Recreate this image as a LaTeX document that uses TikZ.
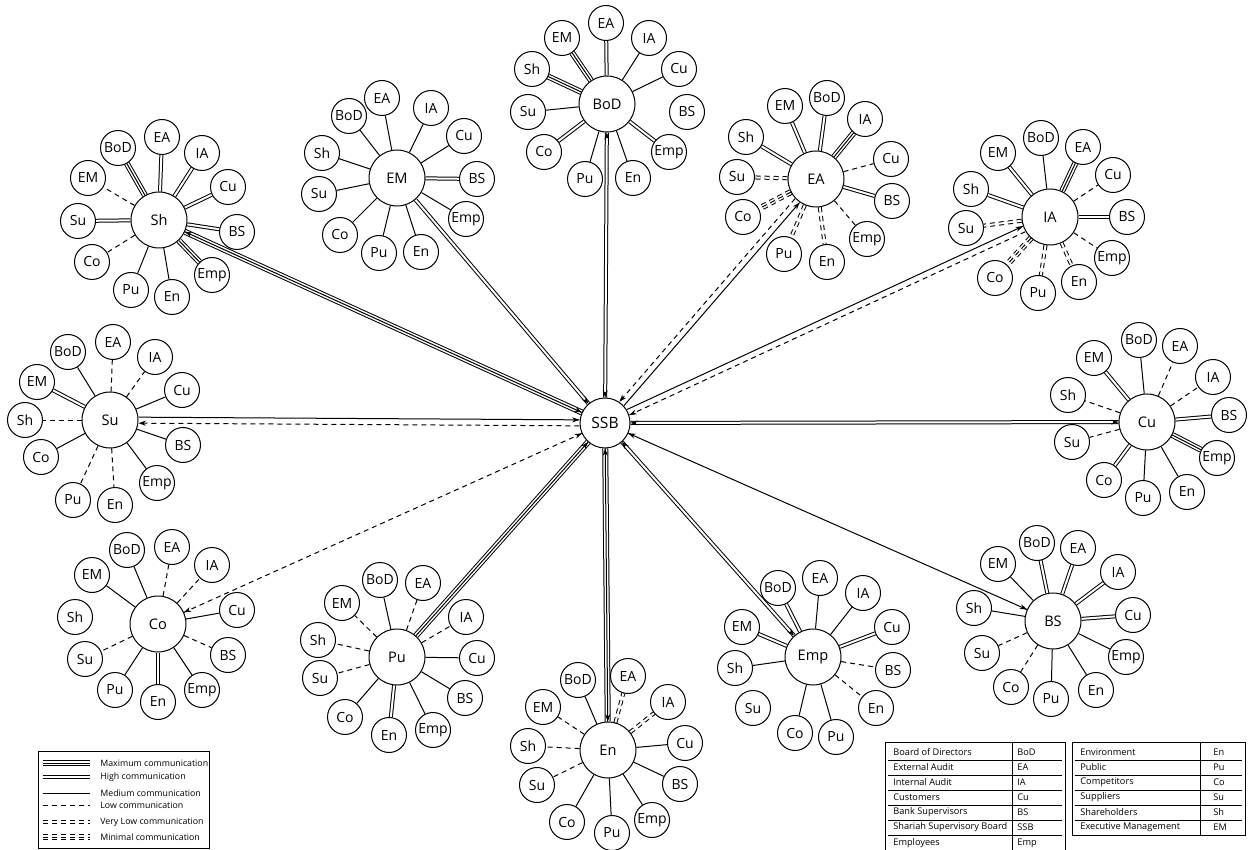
\documentclass[tikz,border=0pt]{standalone}
\usepackage{fontspec}
\setmainfont{Open Sans}
\usetikzlibrary{calc,arrows.meta,decorations.markings}
\pgfdeclarelayer{background}
\pgfsetlayers{background,main}
\tikzset{
  >={Stealth[length=3.6pt,width=2.5pt,line width=0.3pt]},
  sat/.style={circle, draw, line width=0.5pt, fill=white, minimum size=17.5pt, inner sep=0pt, font=\fontsize{7}{8}\selectfont},
  ctr/.style={circle, draw, line width=0.5pt, fill=white, minimum size=28pt, inner sep=0pt, font=\fontsize{7.3}{8}\selectfont},
  ssbnode/.style={circle, draw, line width=0.5pt, fill=white, minimum size=25pt, inner sep=0pt, font=\fontsize{7.8}{9}\selectfont},
  med/.style={draw, line width=0.5pt},
  high/.style={draw, line width=2pt, postaction={draw=white, line width=1pt}},
  maxc/.style={draw, line width=3pt, postaction={draw=white, line width=2pt}, postaction={draw=black, line width=0.5pt}},
  low/.style={draw, line width=0.5pt, dash pattern=on 2.5pt off 2pt},
  vlow/.style={draw, line width=2pt, dash pattern=on 2.5pt off 2pt, postaction={draw=white, line width=1pt, dash pattern=on 2.5pt off 2pt}},
  minc/.style={draw, line width=3pt, dash pattern=on 2.5pt off 2pt, postaction={draw=white, line width=2pt, dash pattern=on 2.5pt off 2pt}, postaction={draw=black, line width=0.5pt, dash pattern=on 2.5pt off 2pt}},
  nonec/.style={draw=none},
  arrB/.style={postaction={line width=0.5pt, solid, decorate, decoration={markings, mark=at position 0 with {\arrowreversed{>}}, mark=at position 1 with {\arrow{>}}}}},
  arrE/.style={postaction={line width=0.5pt, solid, decorate, decoration={markings, mark=at position 1 with {\arrow{>}}}}},
  arrS/.style={postaction={line width=0.5pt, solid, decorate, decoration={markings, mark=at position 0 with {\arrowreversed{>}}}}},
  legtext/.style={anchor=west, inner sep=0pt, font=\fontsize{4.4}{5}\selectfont},
  tabtext/.style={anchor=west, inner sep=0pt, font=\fontsize{4.6}{5}\selectfont},
}
\newcommand\mkcluster[4]{%
  \node[ctr] (#1) at (#2,#3) {#1};
  \foreach \lab/\sx/\sy/\sty in {#4} {
    \node[sat] (#1-\lab) at (\sx,\sy) {\lab};
    \begin{pgfonlayer}{background}\draw[\sty] (#1) -- (#1-\lab);\end{pgfonlayer}
  }}
% #1 style SSB->X (arrow at X), #2 style X->SSB (arrow at SSB), #3 node, #4 side (+1/-1)
\newcommand\mkpair[4]{%
  \draw[#1, arrE] ($(SSB)!12.8pt!(#3)!1.5pt!#4*90:(#3)$) -- ($(#3)!14.3pt!(SSB)!1.5pt!-#4*90:(SSB)$);
  \draw[#2, arrE] ($(#3)!14.3pt!(SSB)!1.5pt!#4*90:(SSB)$) -- ($(SSB)!12.8pt!(#3)!1.5pt!-#4*90:(#3)$);}
\begin{document}
\begin{tikzpicture}[x=0.5pt,y=-0.5pt]
\useasboundingbox (0,0) rectangle (1248,850);
\node[ssbnode] (SSB) at (605,423) {SSB};

\mkcluster{Sh}{159}{220}{BoD/118/148/maxc, EA/162/137/high, IA/202/153/high, Cu/228/187/high, BS/237/232/high, Emp/212/275/maxc, En/172/297/med, Pu/131/290/med, Co/92/262/low, Su/78/221/high, EM/88/178/low}
\mkcluster{EM}{397}{178}{BoD/349/116/med, EA/382/98/med, IA/431/108/med, Cu/464/136/med, BS/477/179/high, Emp/466/219/med, En/421/252/med, Pu/379/253/med, Co/340/235/med, Su/319/194/med, Sh/322/153/med}
\mkcluster{BoD}{607}{104}{EA/606/23/high, IA/649/38/med, Cu/679/69/med, BS/687/112/nonec, Emp/669/152/high, En/633/178/med, Pu/585/179/med, Co/544/152/high, Su/528/112/med, Sh/532/69/maxc, EM/562/38/maxc}
\mkcluster{EA}{816}{179}{EM/785/106/high, BoD/827/98/high, IA/865/119/maxc, Cu/891/159/low, BS/892/201/high, Emp/867/239/low, En/827/262/vlow, Pu/784/254/vlow, Co/743/217/minc, Su/737/177/vlow, Sh/746/137/high}
\mkcluster{IA}{1050}{217}{BoD/1041/138/med, EA/1083/147/maxc, Cu/1113/175/low, BS/1127/217/high, Emp/1112/258/low, En/1079/282/vlow, Pu/1038/293/vlow, Co/995/278/minc, Su/966/228/vlow, Sh/971/189/high, EM/998/153/high}
\mkcluster{Cu}{1147}{422}{BoD/1139/340/med, EA/1180/346/low, IA/1213/377/low, BS/1229/415/high, Emp/1217/458/maxc, En/1187/492/med, Pu/1143/498/med, Co/1104/480/high, Su/1072/442/low, Sh/1068/395/low, EM/1094/358/high}
\mkcluster{BS}{1053}{621}{BoD/1037/543/high, EA/1078/548/high, IA/1118/572/high, Cu/1133/615/high, Emp/1126/657/med, En/1096/690/med, Pu/1051/699/med, Co/1011/687/low, Su/982/653/low, Sh/974/608/med, EM/998/564/med}
\mkcluster{Emp}{813}{657}{BoD/778/588/high, EA/820/578/med, IA/863/593/med, Cu/892/627/high, BS/893/670/low, En/876/708/low, Pu/836/737/med, Co/795/733/med, Su/753/708/nonec, Sh/735/668/med, EM/742/627/high}
\mkcluster{En}{608}{750}{BoD/578/680/med, EA/628/676/vlow, IA/668/702/vlow, Cu/685/743/med, BS/680/784/med, Emp/652/820/med, Pu/612/833/med, Co/567/822/med, Su/537/785/low, Sh/528/746/low, EM/543/707/low}
\mkcluster{Pu}{397}{657}{BoD/380/580/med, EA/423/583/low, IA/466/617/low, Cu/477/658/med, BS/465/698/med, Emp/433/730/med, En/389/735/high, Co/345/717/med, Su/320/678/low, Sh/318/640/low, EM/342/603/low}
\mkcluster{Co}{158}{624}{BoD/127/550/med, EA/172/547/low, IA/212/565/low, Cu/237/610/med, BS/228/655/low, Emp/202/690/med, En/158/702/high, Pu/115/690/med, Su/85/659/low, Sh/75/617/nonec, EM/92/575/med}
\mkcluster{Su}{110}{420}{BoD/68/352/med, EA/113/342/low, IA/155/357/low, Cu/182/390/med, BS/183/445/med, Emp/157/483/med, En/115/505/low, Pu/73/500/low, Co/41/457/med, Sh/25/420/low, EM/37/382/high}

\begin{pgfonlayer}{background}
\draw[maxc, arrB] (SSB) -- (Sh);
\draw[high, arrS] (SSB) -- (EM);
\draw[high, arrB] (SSB) -- (BoD);
\mkpair{med}{low}{EA}{-1}
\mkpair{med}{low}{IA}{1}
\draw[high, arrB] (SSB) -- (Cu);
\draw[med, arrB] (SSB) -- (BS);
\draw[high, arrB] (SSB) -- (Emp);
\draw[maxc, arrB] (SSB) -- (En);
\draw[maxc, arrS] (SSB) -- (Pu);
\draw[low, arrB] (SSB) -- (Co);
\mkpair{low}{med}{Su}{1}
\end{pgfonlayer}

% legend
\draw[line width=0.5pt] (38,751) rectangle (209,848);
\foreach \i/\yy/\sty/\txt in {1/763/maxc/Maximum communication, 2/777/high/High communication, 3/793/med/Medium communication, 4/805/low/Low communication, 5/822/vlow/Very Low communication, 6/837/minc/Minimal communication}{
  \coordinate (la\i) at (43,\yy);
  \coordinate (lb\i) at (90,\yy);
  \draw[\sty] (la\i) -- (lb\i);
  \node[legtext] (lt\i) at (100,\yy) {\txt};
}

% left table
\draw[line width=0.5pt] (885,742) rectangle (1065,850);
\draw[line width=0.4pt] (1012,742) -- (1012,850);
\foreach \yy in {760,775,790,805,820,835}{\draw[line width=0.4pt] (888,\yy) -- (1062,\yy);}
\foreach \i/\yy/\nm/\ab in {1/752/Board of Directors/BoD, 2/767/External Audit/EA, 3/782/Internal Audit/IA, 4/797/Customers/Cu, 5/812/Bank Supervisors/BS, 6/827/Shariah Supervisory Board/SSB, 7/843/Employees/Emp}{
  \node[tabtext] (tl\i) at (893,\yy) {\nm};
  \node[tabtext] (ta\i) at (1017,\yy) {\ab};
}
% right table
\draw[line width=0.5pt] (1072,742) rectangle (1245,835);
\draw[line width=0.4pt] (1200,742) -- (1200,835);
\foreach \yy in {760,775,790,805,820}{\draw[line width=0.4pt] (1075,\yy) -- (1242,\yy);}
\foreach \i/\yy/\nm/\ab in {1/752/Environment/En, 2/767/Public/Pu, 3/782/Competitors/Co, 4/797/Suppliers/Su, 5/812/Shareholders/Sh, 6/827/Executive Management/EM}{
  \node[tabtext] (rl\i) at (1080,\yy) {\nm};
  \node[tabtext] (ra\i) at (1213,\yy) {\ab};
}
\end{tikzpicture}
\end{document}
